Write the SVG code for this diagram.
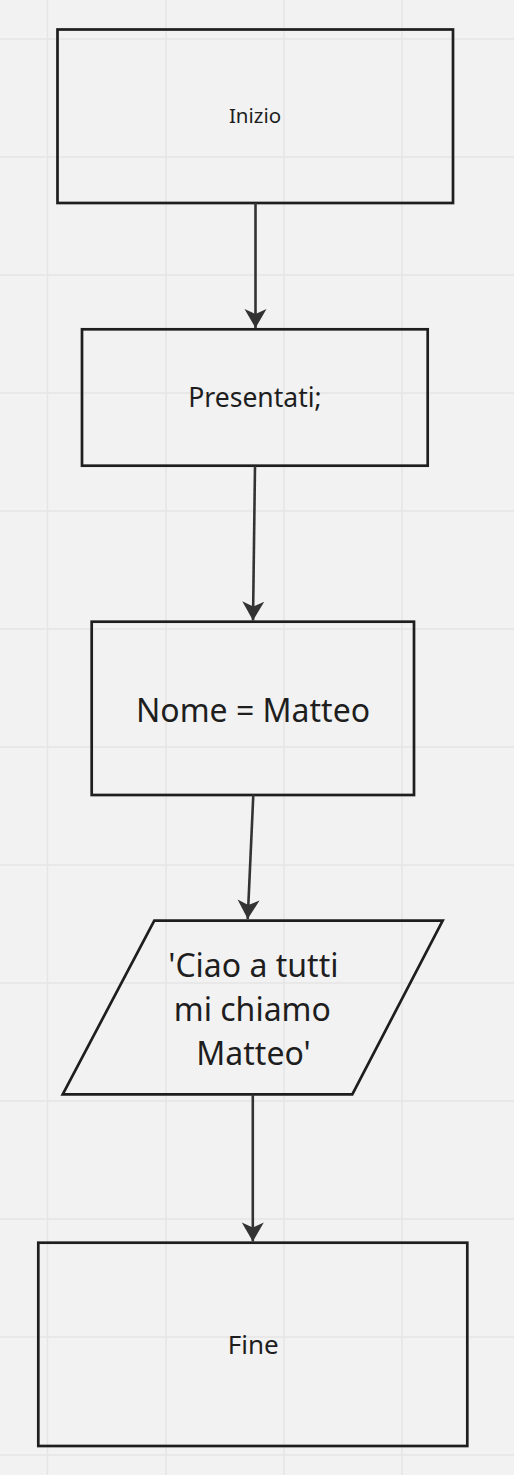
<svg xmlns="http://www.w3.org/2000/svg" width="514" height="1475" viewBox="0 0 514 1475">
  <defs>
    <style>
      .node { fill: none; stroke: #1e1e1e; stroke-width: 2.7; }
      .label { font-family: "Noto Sans", "Open Sans", sans-serif; fill: #1e1e1e; text-anchor: middle; }
      .edge { fill: none; stroke: #333333; stroke-width: 2.6; }
      .grid line { stroke: #e5e5e5; stroke-width: 1.5; }
    </style>
    <marker id="arrow" viewBox="-1 -12 21 24" refX="19" refY="0" markerWidth="21" markerHeight="24" markerUnits="userSpaceOnUse" orient="auto">
      <path d="M19,0 L0,-11 L5,0 L0,11 Z" fill="#333333"/>
    </marker>
  </defs>
  <rect x="0" y="0" width="514" height="1475" fill="#f2f2f2"/>
  <g class="grid">
    <line x1="47.5" y1="0" x2="47.5" y2="1475"/>
    <line x1="166" y1="0" x2="166" y2="1475"/>
    <line x1="284" y1="0" x2="284" y2="1475"/>
    <line x1="402" y1="0" x2="402" y2="1475"/>
    <line x1="0" y1="39" x2="514" y2="39"/>
    <line x1="0" y1="157" x2="514" y2="157"/>
    <line x1="0" y1="275" x2="514" y2="275"/>
    <line x1="0" y1="393" x2="514" y2="393"/>
    <line x1="0" y1="511" x2="514" y2="511"/>
    <line x1="0" y1="629" x2="514" y2="629"/>
    <line x1="0" y1="747" x2="514" y2="747"/>
    <line x1="0" y1="865" x2="514" y2="865"/>
    <line x1="0" y1="983" x2="514" y2="983"/>
    <line x1="0" y1="1101" x2="514" y2="1101"/>
    <line x1="0" y1="1219" x2="514" y2="1219"/>
    <line x1="0" y1="1337" x2="514" y2="1337"/>
    <line x1="0" y1="1455" x2="514" y2="1455"/>
  </g>
  <g id="node-inizio">
    <rect class="node" x="57.5" y="29.5" width="395.5" height="173.5"/>
    <text class="label" x="255" y="123.3" font-size="20.5">Inizio</text>
  </g>
  <g id="node-presentati">
    <rect class="node" x="82" y="329.3" width="345.7" height="136.4"/>
    <text class="label" x="255" y="406.7" font-size="26.5">Presentati;</text>
  </g>
  <g id="node-nome">
    <rect class="node" x="91.7" y="621.7" width="322.3" height="173.3"/>
    <text class="label" x="253" y="721.7" font-size="32">Nome = Matteo</text>
  </g>
  <g id="node-output">
    <polygon class="node" points="154.3,920.7 442.7,920.7 352.3,1094.3 62.7,1094.3"/>
    <text class="label" font-size="32">
      <tspan x="257.5" y="976.7">'Ciao a tutti</tspan>
      <tspan x="256.5" y="1020.5">mi chiamo</tspan>
      <tspan x="253.5" y="1064.5">Matteo'</tspan>
    </text>
  </g>
  <g id="node-fine">
    <rect class="node" x="38.3" y="1242.7" width="429" height="203.3"/>
    <text class="label" x="253.3" y="1354" font-size="26">Fine</text>
  </g>
  <g id="connectors">
    <line class="edge" x1="255.5" y1="203" x2="255.5" y2="328" marker-end="url(#arrow)"/>
    <line class="edge" x1="255" y1="466" x2="253" y2="620.5" marker-end="url(#arrow)"/>
    <line class="edge" x1="253.3" y1="795" x2="247.7" y2="919" marker-end="url(#arrow)"/>
    <line class="edge" x1="252.8" y1="1094.3" x2="252.8" y2="1241.5" marker-end="url(#arrow)"/>
  </g>
</svg>
